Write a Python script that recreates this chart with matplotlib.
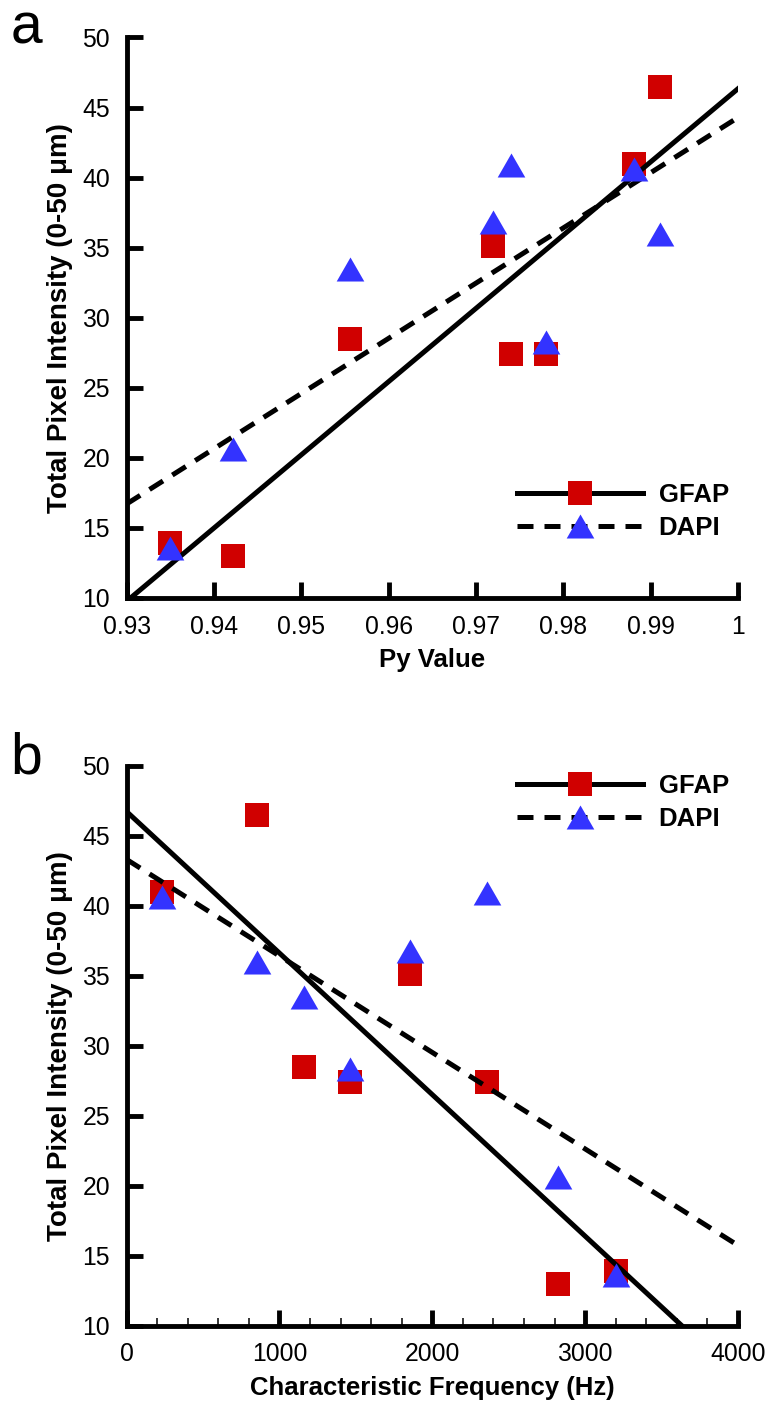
import matplotlib
matplotlib.use("Agg")
import matplotlib.pyplot as plt
import numpy as np
from matplotlib.lines import Line2D
from matplotlib.ticker import MultipleLocator, FormatStrFormatter

plt.rcParams["font.family"] = ["Liberation Sans", "DejaVu Sans"]

# per-sample measurements (same sample order in every list)
py_value = [0.9350, 0.9422, 0.9556, 0.9720, 0.9740, 0.9780, 0.9881, 0.9911]
char_freq = [3202, 2824, 1161, 1853, 2361, 1462, 233, 850]
gfap = [13.9, 13.0, 28.5, 35.1, 27.4, 27.4, 41.0, 46.5]
dapi = [13.6, 20.6, 33.5, 36.8, 40.9, 28.3, 40.6, 36.0]

py_ticks = [0.93, 0.94, 0.95, 0.96, 0.97, 0.98, 0.99, 1.0]
py_ticklabels = ["0.93", "0.94", "0.95", "0.96", "0.97", "0.98", "0.99", "1"]

RED = "#d00000"
BLUE = "#3333ff"
TRI = [(-1.15, -1), (1.15, -1), (0, 1)]   # slightly wide triangle
LW = 3.6
DASH = (0, (3.2, 2.2))
LABEL_FS = 18.5

fig = plt.figure(figsize=(7.7, 14.04), dpi=100)
ax_a = fig.add_axes([0.1645, 0.5741, 0.7939, 0.3992])
ax_b = fig.add_axes([0.1645, 0.0558, 0.7939, 0.3988])


def panel(ax, x, xlim):
    ax.plot(x, gfap, ls="none", marker="s", ms=17.3, mfc=RED, mec=RED, mew=0, zorder=2)
    ax.plot(x, dapi, ls="none", marker=TRI, ms=19.9, mfc=BLUE, mec=BLUE, mew=0, zorder=4)
    xx = np.array(xlim, dtype=float)
    for y, ls in ((gfap, "-"), (dapi, DASH)):
        k, b = np.polyfit(x, y, 1)
        ax.plot(xx, k * xx + b, color="k", lw=LW, ls=ls, zorder=3)
    ax.set_xlim(*xlim)
    ax.set_ylim(10, 50)
    ax.yaxis.set_major_locator(MultipleLocator(5))
    for s in ("top", "right"):
        ax.spines[s].set_visible(False)
    for s in ("left", "bottom"):
        ax.spines[s].set_linewidth(3.5)
    ax.tick_params(which="major", direction="in", length=11.5, width=3.5,
                   labelsize=17.8, pad=12)
    ax.tick_params(which="minor", direction="in", length=6, width=1.1)
    ax.tick_params(axis="y", which="minor", left=False)
    ax.set_ylabel("Total Pixel Intensity (0-50 \u03bcm)", fontsize=20, fontweight="bold")
    ax.yaxis.set_label_coords(-0.087, 0.5)

    handles = [
        Line2D([], [], color="k", lw=LW, marker="s", ms=17.3, mfc=RED, mec=RED, mew=0),
        Line2D([], [], color="k", lw=LW, ls=DASH, marker=TRI, ms=19.9, mfc=BLUE, mec=BLUE, mew=0),
    ]
    return handles


def add_legend(ax, handles, top):
    ax.legend(handles, ["GFAP", "DAPI"], loc="upper left", bbox_to_anchor=(0.638, top),
              frameon=False, numpoints=1, handlelength=4.9, handletextpad=0.62,
              labelspacing=0.38, borderpad=0, borderaxespad=0,
              prop={"size": LABEL_FS, "weight": "bold"})


h = panel(ax_a, py_value, (0.93, 1.0))
ax_a.set_xticks(py_ticks)
ax_a.set_xticklabels(py_ticklabels)
ax_a.set_xlabel("Py Value", fontsize=LABEL_FS, fontweight="bold")
ax_a.xaxis.set_label_coords(0.5, -0.09)
add_legend(ax_a, h, 0.206)

h = panel(ax_b, char_freq, (0, 4000))
ax_b.xaxis.set_major_locator(MultipleLocator(1000))
ax_b.xaxis.set_minor_locator(MultipleLocator(200))
ax_b.xaxis.set_major_formatter(FormatStrFormatter("%d"))
ax_b.set_xlabel("Characteristic Frequency (Hz)", fontsize=LABEL_FS, fontweight="bold")
ax_b.xaxis.set_label_coords(0.5, -0.09)
add_legend(ax_b, h, 0.986)

fig.text(0.014, 1 - 43 / 1404, "a", fontsize=41, va="baseline")
fig.text(0.014, 1 - 774 / 1404, "b", fontsize=41, va="baseline")

fig.savefig("out.png", dpi=100)
